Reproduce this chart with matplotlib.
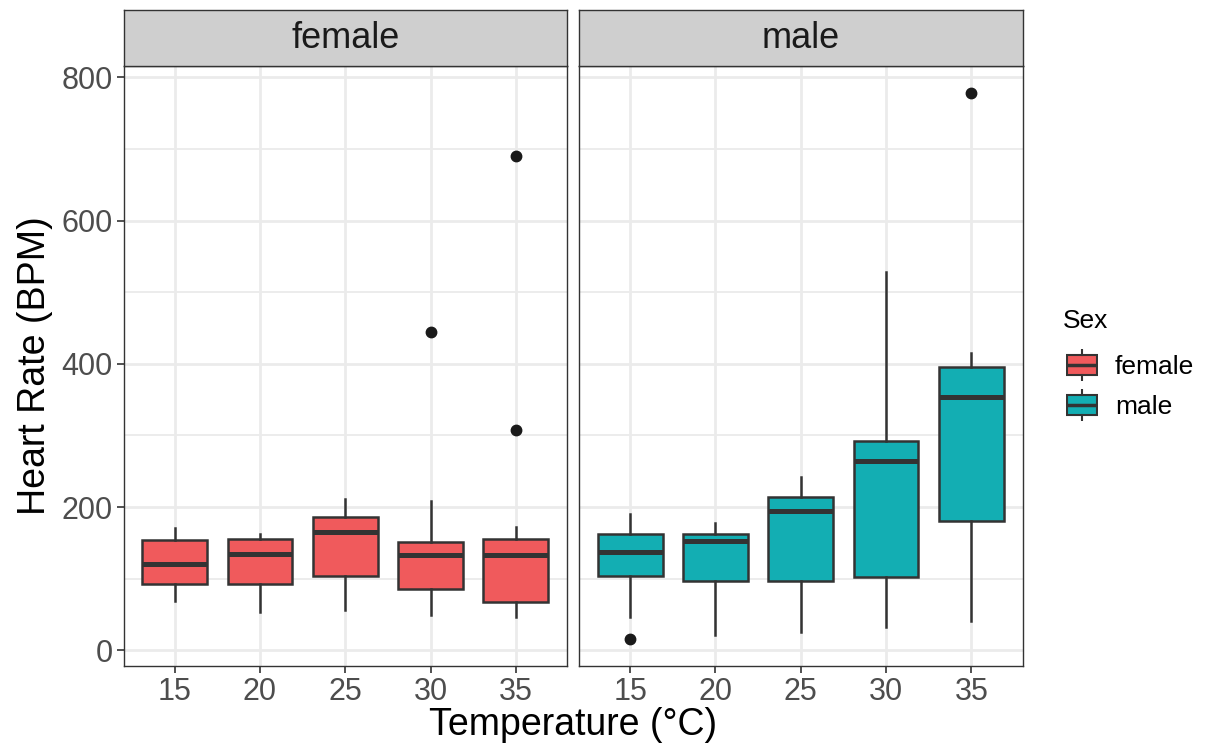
import matplotlib
matplotlib.use("Agg")
import matplotlib.pyplot as plt
from matplotlib.patches import Rectangle

plt.rcParams['font.family'] = ['Liberation Sans', 'DejaVu Sans']

temps = ["15", "20", "25", "30", "35"]
sexes = ["female", "male"]

# box statistics
female_whislo = [69, 54, 56, 49, 46]
female_q1 = [93, 93, 104, 86, 67]
female_med = [121, 134, 165, 133, 133]
female_q3 = [154, 155, 186, 151, 155]
female_whishi = [171, 163, 211, 208, 172]
female_fliers = [[], [], [], [444], [308, 690]]

male_whislo = [47, 21, 26, 32, 41]
male_q1 = [104, 97, 97, 102, 180]
male_med = [137, 152, 194, 264, 354]
male_q3 = [163, 163, 214, 292, 395]
male_whishi = [190, 178, 242, 528, 415]
male_fliers = [[16], [], [], [], [778]]

colors = {"female": "#F05A5C", "male": "#13AEB3"}

stats = {
    "female": (female_whislo, female_q1, female_med, female_q3, female_whishi, female_fliers),
    "male": (male_whislo, male_q1, male_med, male_q3, male_whishi, male_fliers),
}

W, H = 1212, 752
fig = plt.figure(figsize=(W / 100, H / 100), dpi=100)

def fx(px):
    return px / W

def fy(py):
    return (H - py) / H

panel_x = [(123.5, 567.0), (579.0, 1022.5)]
p_top, p_bot = 66.0, 666.0
s_top = 10.0
ylo, yhi = -22, 816
grey20 = "#333333"
grid_c = "#EBEBEB"

for i, sex in enumerate(sexes):
    x0, x1 = panel_x[i]
    ax = fig.add_axes([fx(x0), fy(p_bot), fx(x1) - fx(x0), fy(p_top) - fy(p_bot)])
    wl, q1, md, q3, wh, fl = stats[sex]
    bstats = []
    for k in range(len(temps)):
        bstats.append(dict(whislo=wl[k], q1=q1[k], med=md[k], q3=q3[k], whishi=wh[k],
                           fliers=fl[k], label=temps[k]))
    ax.bxp(bstats, positions=range(1, 6), widths=0.76, patch_artist=True, showcaps=False,
           boxprops=dict(facecolor=colors[sex], edgecolor=grey20, linewidth=1.8),
           medianprops=dict(color=grey20, linewidth=3.6, solid_capstyle='butt'),
           whiskerprops=dict(color=grey20, linewidth=1.8),
           flierprops=dict(marker='o', markerfacecolor='#1a1a1a', markeredgecolor='#1a1a1a',
                           markersize=7.5, linestyle='none'),
           zorder=3)
    ax.set_xlim(0.4, 5.6)
    ax.set_ylim(ylo, yhi)
    ax.set_xticks(range(1, 6))
    ax.set_xticklabels(temps)
    ax.set_yticks([0, 200, 400, 600, 800])
    ax.set_yticks([100, 300, 500, 700], minor=True)
    ax.set_xticks([], minor=True)
    ax.grid(True, which='major', color=grid_c, linewidth=2.0, zorder=0)
    ax.grid(True, which='minor', axis='y', color=grid_c, linewidth=1.3, zorder=0)
    ax.set_axisbelow(True)
    for sp in ax.spines.values():
        sp.set_color(grey20)
        sp.set_linewidth(1.0)
    ax.tick_params(axis='both', which='major', length=5, width=1.2, color=grey20,
                   labelsize=22, labelcolor='#4D4D4D', pad=3)
    ax.tick_params(axis='y', which='minor', length=0)
    if i == 0:
        ax.set_ylabel("Heart Rate (BPM)", fontsize=27, color='black', labelpad=6)
    else:
        ax.tick_params(axis='y', which='both', left=False, labelleft=False)
    # strip
    sax = fig.add_axes([fx(x0), fy(p_top), fx(x1) - fx(x0), fy(s_top) - fy(p_top)])
    sax.set_xlim(0, 1)
    sax.set_ylim(0, 1)
    sax.add_patch(Rectangle((0, 0), 1, 1, facecolor="#CFCFCF", edgecolor='none'))
    sax.set_xticks([])
    sax.set_yticks([])
    for sp in sax.spines.values():
        sp.set_color(grey20)
        sp.set_linewidth(1.0)
    sax.text(0.5, 0.5, sex, ha='center', va='center', fontsize=26, color='#1A1A1A')

fig.text(fx((123.5 + 1022.5) / 2), fy(735), "Temperature (°C)", ha='center', va='baseline',
         fontsize=27, color='black')

# legend
fig.text(fx(1063), fy(328), "Sex", ha='left', va='baseline', fontsize=19, color='black')
for j, sex in enumerate(sexes):
    cy = 365 + j * 40
    kax = fig.add_axes([fx(1066), fy(cy + 16), fx(1098) - fx(1066), fy(cy - 16) - fy(cy + 16)])
    kax.set_xlim(0, 1)
    kax.set_ylim(0, 1)
    kax.axis('off')
    kax.plot([0.5, 0.5], [0.0, 0.2], color=grey20, lw=1.5)
    kax.plot([0.5, 0.5], [0.8, 1.0], color=grey20, lw=1.5)
    kax.add_patch(Rectangle((0.03, 0.19), 0.94, 0.62, facecolor=colors[sex], edgecolor=grey20, lw=1.5))
    kax.plot([0.03, 0.97], [0.5, 0.5], color=grey20, lw=2.5)
    fig.text(fx(1115), fy(cy + 2), sex, ha='left', va='center', fontsize=19, color='black')

fig.savefig("out.png", dpi=100)
